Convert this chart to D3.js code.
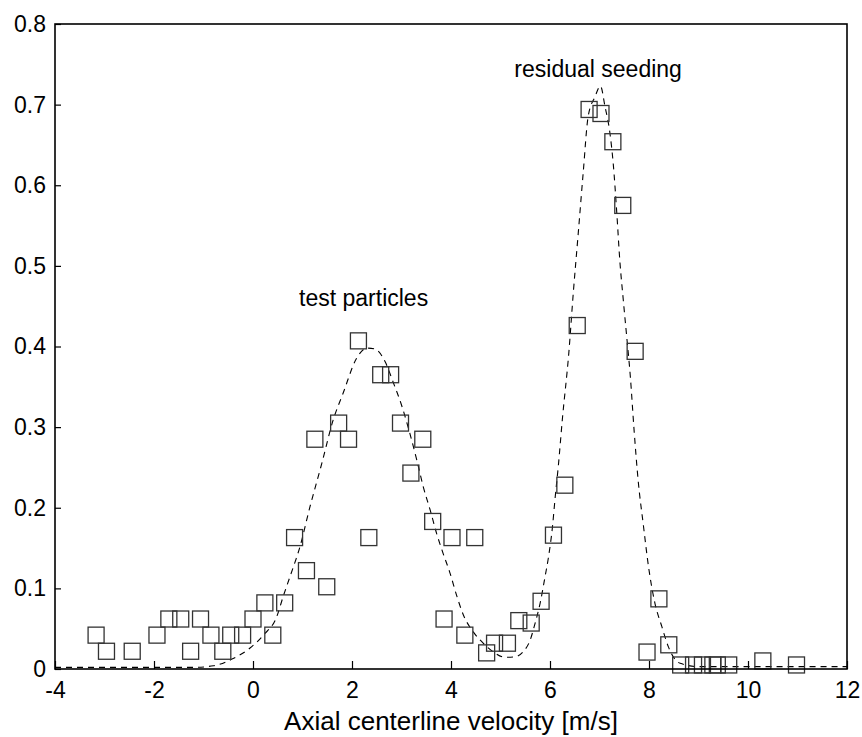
<!DOCTYPE html>
<html>
<head>
<meta charset="utf-8">
<script src="https://cdn.jsdelivr.net/npm/d3@7"></script>
<style>
  body { margin: 0; background: #fff; }
  svg text { font-family: "Liberation Sans", Arial, sans-serif; fill: #000; }
</style>
</head>
<body>
<div id="chart"></div>
<script>
// measured velocity histogram (squares)
var velocity = [-3.17, -2.96, -2.44, -1.94, -1.70, -1.46, -1.26, -1.06, -0.85, -0.61, -0.45, -0.21, 0.0, 0.24, 0.40, 0.64,
    0.84, 1.08, 1.25, 1.49, 1.73, 1.93, 2.13, 2.34, 2.58, 2.78, 2.98, 3.19, 3.43, 3.63, 3.86, 4.02, 4.28, 4.48,
    4.72, 4.88, 5.14, 5.37, 5.62, 5.82, 6.07, 6.30, 6.55, 6.79, 7.03, 7.27, 7.47, 7.72, 7.96, 8.20, 8.40,
    8.64, 8.90, 9.08, 9.29, 9.38, 9.61, 10.30, 10.98];
var fraction = [0.042, 0.022, 0.022, 0.042, 0.062, 0.062, 0.022, 0.062, 0.042, 0.022, 0.042, 0.042, 0.062, 0.082, 0.042, 0.082,
    0.163, 0.122, 0.285, 0.102, 0.305, 0.285, 0.407, 0.163, 0.365, 0.365, 0.305, 0.243, 0.285, 0.183, 0.062, 0.163, 0.042, 0.163,
    0.020, 0.032, 0.032, 0.060, 0.057, 0.084, 0.166, 0.228, 0.426, 0.694, 0.689, 0.654, 0.575, 0.394, 0.021, 0.087, 0.030,
    0.005, 0.005, 0.005, 0.005, 0.005, 0.005, 0.010, 0.005];

// fitted curve (dashed)
var fitX = [-4, -3, -2, -1.2, -0.8, -0.4, -0.06, 0.21, 0.48, 0.61, 0.75, 0.95, 1.15, 1.39, 1.62, 1.82, 2.09, 2.3, 2.46,
    2.67, 2.83, 3.0, 3.17, 3.31, 3.44, 3.58, 3.71, 3.84, 3.98, 4.12, 4.25, 4.45, 4.65, 4.85, 5.09, 5.29, 5.46, 5.6,
    5.7, 5.8, 5.9, 5.97, 6.05, 6.1, 6.17, 6.25, 6.38, 6.47, 6.57, 6.67, 6.77, 6.91, 7.02, 7.11, 7.21, 7.28, 7.35,
    7.41, 7.48, 7.55, 7.62, 7.7, 7.78, 7.89, 7.99, 8.12, 8.26, 8.39, 8.63, 9, 10, 11, 12];
var fitY = [0.002, 0.002, 0.002, 0.002, 0.004, 0.013, 0.026, 0.042, 0.065, 0.09, 0.115, 0.152, 0.201, 0.255, 0.309, 0.342, 0.385, 0.398, 0.397,
    0.381, 0.356, 0.3275, 0.292, 0.259, 0.226, 0.197, 0.168, 0.1435, 0.119, 0.09, 0.067, 0.046, 0.032, 0.0215, 0.0145, 0.015, 0.0215, 0.036,
    0.057, 0.0815, 0.1145, 0.139, 0.1765, 0.21, 0.253, 0.31, 0.392, 0.466, 0.54, 0.615, 0.685, 0.71, 0.723, 0.698, 0.665, 0.625, 0.565,
    0.507, 0.458, 0.412, 0.365, 0.295, 0.2345, 0.1765, 0.127, 0.0815, 0.0525, 0.0277, 0.007, 0.003, 0.003, 0.003, 0.003];

var xTicks = [-4, -2, 0, 2, 4, 6, 8, 10, 12];
var yTicks = [0, 0.1, 0.2, 0.3, 0.4, 0.5, 0.6, 0.7, 0.8];
var yTickLabels = ['0', '0.1', '0.2', '0.3', '0.4', '0.5', '0.6', '0.7', '0.8'];

var annotations = [
    { text: 'test particles', x: 0.93, y: 0.45 },
    { text: 'residual seeding', x: 5.28, y: 0.734 }
];

var width = 862, height = 737;
var plot = { left: 55, right: 847, top: 24, bottom: 669 };

var svg = d3.select('#chart').append('svg')
    .attr('width', width)
    .attr('height', height);

var x = d3.scaleLinear().domain([-4, 12]).range([plot.left, plot.right]);
var y = d3.scaleLinear().domain([0, 0.8]).range([plot.bottom, plot.top]);

// axes, ticks point inward
var xAxis = d3.axisBottom(x).tickValues(xTicks).tickSizeInner(-8).tickSizeOuter(0).tickPadding(13)
    .tickFormat(function(d) { return d; });
var yAxis = d3.axisLeft(y).tickValues(yTicks).tickSizeInner(-6).tickSizeOuter(0).tickPadding(9)
    .tickFormat(function(d, i) { return yTickLabels[i]; });

var gx = svg.append('g').attr('transform', 'translate(0,' + plot.bottom + ')').call(xAxis);
var gy = svg.append('g').attr('transform', 'translate(' + plot.left + ',0)').call(yAxis);
[gx, gy].forEach(function(g) {
    g.select('.domain').remove();
    g.selectAll('line').attr('stroke', '#000').attr('stroke-width', 1.2);
    g.selectAll('text').style('font-size', '23px').attr('fill', '#000');
});
gx.selectAll('text').attr('dy', '0.71em');

// dashed fit
var line = d3.line()
    .x(function(d) { return x(d[0]); })
    .y(function(d) { return y(d[1]); })
    .curve(d3.curveMonotoneX);

svg.append('path')
    .datum(d3.zip(fitX, fitY))
    .attr('d', line)
    .attr('fill', 'none')
    .attr('stroke', '#000')
    .attr('stroke-width', 1.1)
    .attr('stroke-dasharray', '6,5');

// square markers
var s = 16;
svg.selectAll('rect.pt').data(d3.zip(velocity, fraction)).enter().append('rect')
    .attr('class', 'pt')
    .attr('x', function(d) { return x(d[0]) - s / 2; })
    .attr('y', function(d) { return y(d[1]) - s / 2; })
    .attr('width', s)
    .attr('height', s)
    .attr('fill', 'none')
    .attr('stroke', '#333')
    .attr('stroke-width', 1.3);

// box
svg.append('rect')
    .attr('x', plot.left).attr('y', plot.top)
    .attr('width', plot.right - plot.left).attr('height', plot.bottom - plot.top)
    .attr('fill', 'none')
    .attr('stroke', '#000')
    .attr('stroke-width', 1.6);

svg.selectAll('text.note').data(annotations).enter().append('text')
    .attr('class', 'note')
    .attr('x', function(d) { return x(d.x); })
    .attr('y', function(d) { return y(d.y); })
    .style('font-size', '23px')
    .text(function(d) { return d.text; });

svg.append('text')
    .attr('x', (plot.left + plot.right) / 2)
    .attr('y', 730)
    .attr('text-anchor', 'middle')
    .style('font-size', '26px')
    .text('Axial centerline velocity [m/s]');
</script>
</body>
</html>
